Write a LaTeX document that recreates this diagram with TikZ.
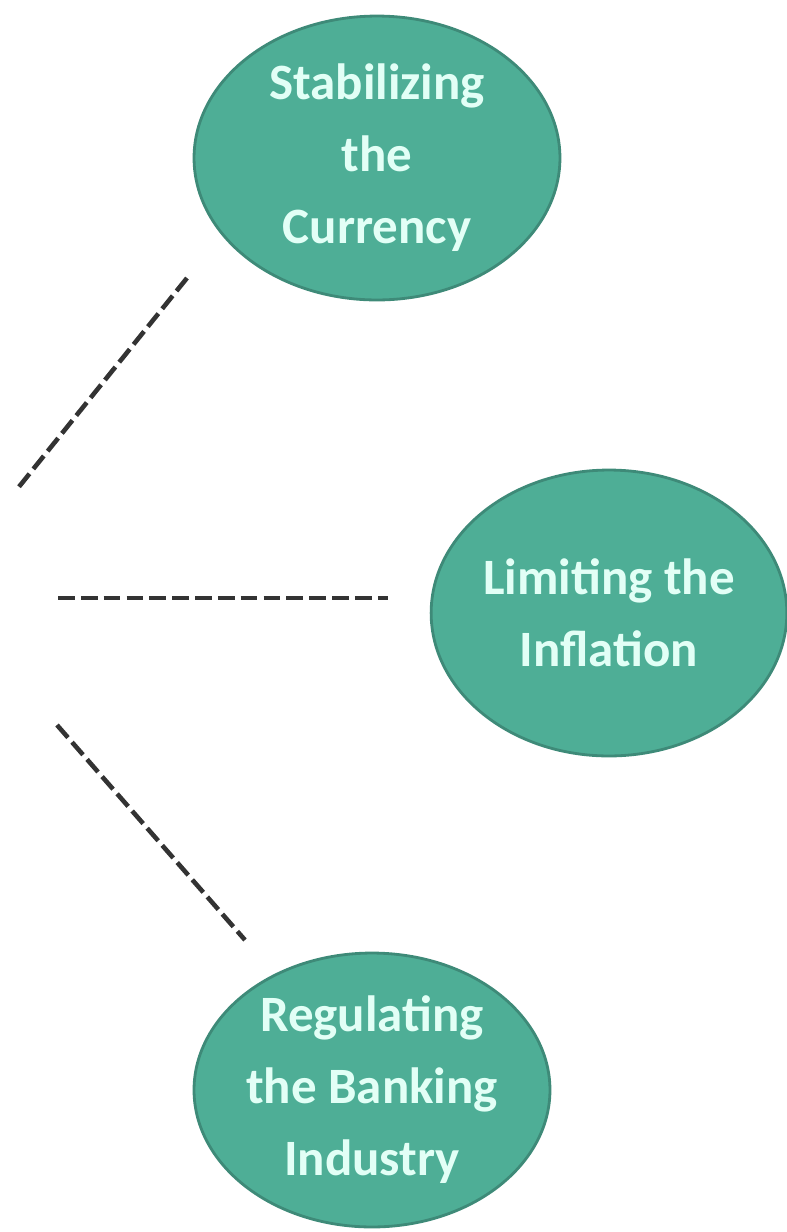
\documentclass[tikz,border=0pt]{standalone}
\usepackage{fontspec}
\setmainfont{Carlito}
\usetikzlibrary{shapes.geometric}
\definecolor{goalfill}{HTML}{4EAE96}
\definecolor{goaledge}{HTML}{3E8A78}
\definecolor{goaltext}{HTML}{E2FFF6}
\definecolor{linkgray}{HTML}{333333}
\begin{document}
\begin{tikzpicture}[x=0.02cm, y=-0.02cm,
    goal/.style={ellipse, draw=goaledge, line width=1.6pt, fill=goalfill,
        text=goaltext, align=center, inner xsep=0pt, inner ysep=-8pt,
        font=\bfseries\fontsize{29}{41}\selectfont},
    link/.style={draw=linkgray, line width=2.6pt, dash pattern=on 9.5pt off 3.5pt}]
    % canvas of the reference, in pixels
    \useasboundingbox (0,0) rectangle (787,1232);

    % the three goals
    \node[goal, minimum width=7.32cm, minimum height=5.68cm] (currency) at (377,158)
        {Stabilizing\\the\\Currency};
    \node[goal, minimum width=7.04cm, minimum height=5.72cm] (inflation) at (609,613)
        {Limiting the\\Inflation};
    \node[goal, minimum width=7.04cm, minimum height=5.48cm] (banking) at (372,1090)
        {Regulating\\the Banking\\Industry};

    % free ends of the dashed strokes
    \coordinate (c1a) at (187,278);
    \coordinate (c1b) at (18,488);
    \coordinate (c2a) at (58,598);
    \coordinate (c2b) at (388,598);
    \coordinate (c3a) at (57,725);
    \coordinate (c3b) at (245,940);

    % dashed strokes on the left
    \draw[link] (c1a) -- (c1b);
    \draw[link] (c2a) -- (c2b);
    \draw[link] (c3a) -- (c3b);
\end{tikzpicture}
\end{document}
